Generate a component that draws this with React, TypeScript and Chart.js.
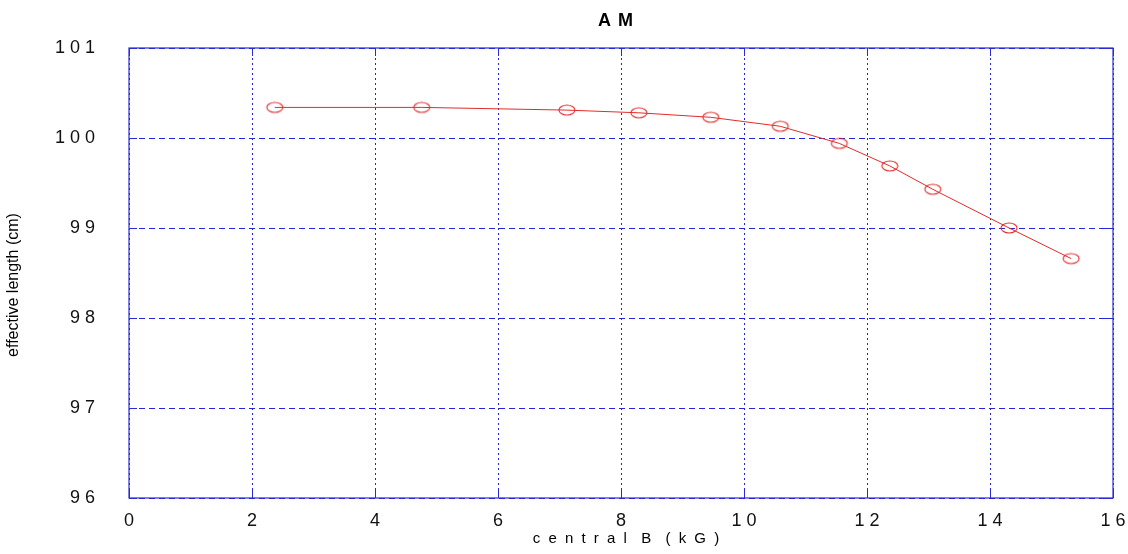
import React, { useEffect, useRef } from "react";
import { Chart, registerables } from "chart.js";

Chart.register(...registerables);

const fieldKG: number[] = [2.37, 4.76, 7.12, 8.29, 9.46, 10.59, 11.55, 12.37, 13.07, 14.31, 15.32];
const effLength: number[] = [100.34, 100.34, 100.31, 100.28, 100.23, 100.13, 99.94, 99.69, 99.43, 99.0, 98.66];

const titleText = "A M";
const xTitle = "c e n t r a l  B  ( k G )";
const yTitle = "effective length (cm)";

const spaced = (v: number | string) => String(v).split("").join(" ");

function makeMarker(): HTMLCanvasElement {
  const c = document.createElement("canvas");
  c.width = 20;
  c.height = 14;
  const g = c.getContext("2d")!;
  g.strokeStyle = "#e42a2a";
  g.lineWidth = 1.1;
  g.beginPath();
  g.ellipse(10, 7, 8, 5, 0, 0, Math.PI * 2);
  g.stroke();
  return c;
}

const overlay = {
  id: "overlay",
  afterDraw(chart: any) {
    const { ctx, chartArea } = chart;
    const { left, right, top, bottom } = chartArea;
    const blue = "#2b2bd6";
    ctx.save();
    ctx.strokeStyle = blue;
    ctx.lineWidth = 1.2;
    ctx.setLineDash([]);
    ctx.strokeRect(left, top, right - left, bottom - top);
    const xs = chart.scales.x;
    const ys = chart.scales.y;
    const tl = 8;
    ctx.beginPath();
    xs.ticks.forEach((t: any) => {
      const px = Math.round(xs.getPixelForValue(t.value)) + 0.5;
      ctx.moveTo(px, bottom);
      ctx.lineTo(px, bottom - tl);
      ctx.moveTo(px, top);
      ctx.lineTo(px, top + tl);
    });
    ys.ticks.forEach((t: any) => {
      const py = Math.round(ys.getPixelForValue(t.value)) + 0.5;
      ctx.moveTo(left, py);
      ctx.lineTo(left + tl, py);
      ctx.moveTo(right, py);
      ctx.lineTo(right - tl, py);
    });
    ctx.lineWidth = 1;
    ctx.stroke();

    ctx.fillStyle = "#000";
    ctx.textAlign = "center";
    ctx.textBaseline = "middle";
    ctx.font = 'bold 18px "Liberation Sans", Arial, sans-serif';
    (ctx as any).letterSpacing = "1px";
    ctx.fillText(titleText, 616, 21);

    ctx.font = '15px "Liberation Sans", Arial, sans-serif';
    (ctx as any).letterSpacing = "2px";
    ctx.fillText(xTitle, 627, 539);

    (ctx as any).letterSpacing = "0px";
    ctx.translate(14, 285);
    ctx.rotate(-Math.PI / 2);
    ctx.font = '16px "Liberation Sans", Arial, sans-serif';
    ctx.fillText(yTitle, 0, 0);
    ctx.restore();
  },
};

export default function App() {
  const ref = useRef<HTMLCanvasElement | null>(null);

  useEffect(() => {
    document.body.style.margin = "0";
    const canvas = ref.current!;
    const marker = makeMarker();
    const chart = new Chart(canvas, {
      type: "line",
      data: {
        datasets: [
          {
            data: fieldKG.map((x, i) => ({ x, y: effLength[i] })),
            borderColor: "#e42a2a",
            borderWidth: 1,
            pointStyle: marker as any,
            pointRadius: 6,
            backgroundColor: "transparent",
            tension: 0,
          },
        ],
      },
      options: {
        animation: false,
        responsive: false,
        layout: { padding: { top: 48, right: 15, left: 0, bottom: 0 } },
        plugins: {
          legend: { display: false },
          tooltip: { enabled: false },
          title: { display: false },
        },
        scales: {
          x: {
            type: "linear",
            min: 0,
            max: 16,
            afterFit: (s: any) => {
              s.height = 56;
              s.paddingLeft = 0;
              s.paddingRight = 0;
            },
            ticks: {
              stepSize: 2,
              color: "#111",
              padding: 12,
              font: { family: '"Liberation Sans", Arial, sans-serif', size: 18 },
              callback: (v: any) => spaced(v),
              maxRotation: 0,
            },
            grid: {
              color: "#2424d8",
              lineWidth: 1,
              drawTicks: false,
            },
            border: { display: false, dash: [2, 3] } as any,
          },
          y: {
            type: "linear",
            min: 96,
            max: 101,
            afterFit: (s: any) => {
              s.width = 129;
              s.paddingTop = 0;
              s.paddingBottom = 0;
            },
            ticks: {
              stepSize: 1,
              color: "#111",
              padding: 34,
              font: { family: '"Liberation Sans", Arial, sans-serif', size: 18 },
              callback: (v: any) => spaced(v),
            },
            grid: {
              color: "#2424d8",
              lineWidth: 1,
              drawTicks: false,
            },
            border: { display: false, dash: [6, 4] } as any,
          },
        },
      } as any,
      plugins: [overlay],
    });
    return () => chart.destroy();
  }, []);

  return (
    <div style={{ position: "absolute", left: 0, top: 0, width: 1128, height: 554, background: "#fff" }}>
      <canvas ref={ref} width={1128} height={554} />
    </div>
  );
}
